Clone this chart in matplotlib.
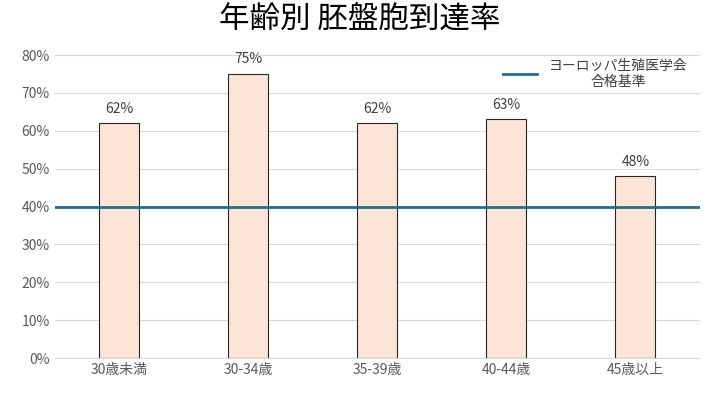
import matplotlib.pyplot as plt
from matplotlib.ticker import PercentFormatter

plt.rcParams['font.family'] = ['Noto Sans CJK JP', 'DejaVu Sans']

categories = ['30歳未満', '30-34歳', '35-39歳', '40-44歳', '45歳以上']
rates = [62, 75, 62, 63, 48]
standard = 40

fig = plt.figure(figsize=(7.2, 4.05), dpi=100)
ax = fig.add_axes([0.076, 0.116, 0.896, 0.748])

bars = ax.bar(range(len(categories)), rates, width=0.31,
              color='#FCE4D6', edgecolor='#262626', linewidth=0.8, zorder=2)
for b, v in zip(bars, rates):
    ax.text(b.get_x() + b.get_width() / 2, v + 2, f'{v}%',
            ha='center', va='bottom', fontsize=10, color='#404040')

ax.axhline(standard, color='#1F6E8C', linewidth=2, zorder=3,
           label='ヨーロッパ生殖医学会\n合格基準')

ax.set_xlim(-0.5, len(categories) - 0.5)
ax.set_ylim(0, 80)
ax.set_yticks(range(0, 81, 10))
ax.yaxis.set_major_formatter(PercentFormatter(decimals=0))
ax.set_xticks(range(len(categories)))
ax.set_xticklabels(categories)
ax.tick_params(length=0, labelsize=10, labelcolor='#595959')
ax.grid(axis='y', color='#D9D9D9', linewidth=0.8, zorder=0)
for s in ['top', 'right', 'left']:
    ax.spines[s].set_visible(False)
ax.spines['bottom'].set_color('#D9D9D9')

leg = ax.legend(loc='upper right', bbox_to_anchor=(1.0, 1.03), frameon=False,
                fontsize=10, handlelength=2.5)
for t in leg.get_texts():
    t.set_ha('center')
    t.set_color('#404040')

fig.suptitle('年齢別 胚盤胞到達率', fontsize=22, y=0.99)
fig.savefig('out.png')
